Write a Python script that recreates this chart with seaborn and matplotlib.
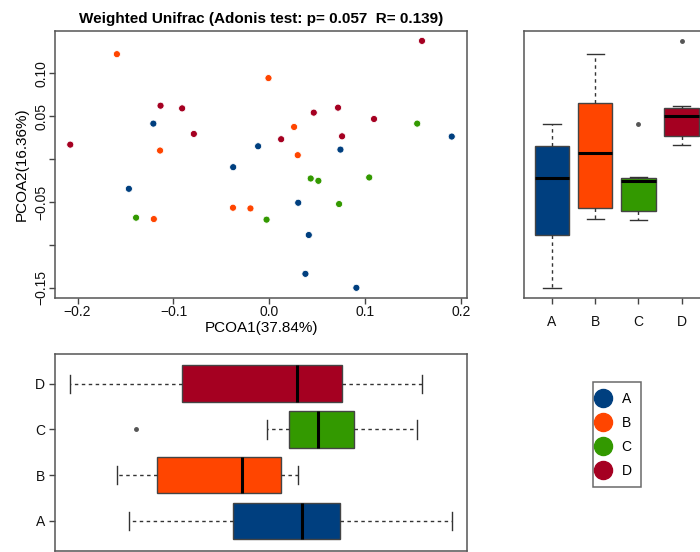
"""
PCoA (weighted UniFrac) scatter with marginal boxplots per group.
"""

import matplotlib

matplotlib.use("Agg")

import matplotlib.cbook as cbook
import matplotlib.pyplot as plt
import numpy as np
import pandas as pd
import seaborn as sns
from matplotlib.lines import Line2D

groups = ["A", "B", "C", "D"]
colors = ["#003F7F", "#FF4500", "#339900", "#A50021"]

a_pc1 = [-0.121, -0.1465, -0.0378, -0.0118, 0.030, 0.074, 0.041, 0.0375, 0.0906, 0.190]
a_pc2 = [0.0415, -0.0345, -0.0093, 0.0151, -0.0508, 0.0112, -0.0884, -0.1337, -0.1500, 0.0264]
b_pc1 = [-0.159, -0.114, -0.1205, -0.038, -0.0198, -0.001, 0.0257, 0.0295]
b_pc2 = [0.1225, 0.0101, -0.0698, -0.0566, -0.0574, 0.0946, 0.0376, 0.0047]
c_pc1 = [-0.139, -0.003, 0.043, 0.051, 0.0726, 0.104, 0.154]
c_pc2 = [-0.0682, -0.0705, -0.0225, -0.0252, -0.0523, -0.0213, 0.0415]
d_pc1 = [-0.2076, -0.1135, -0.091, -0.0788, 0.0122, 0.0462, 0.0715, 0.0757, 0.109, 0.159]
d_pc2 = [0.017, 0.0624, 0.0593, 0.0295, 0.0233, 0.0543, 0.0601, 0.0267, 0.0469, 0.138]

title = "Weighted Unifrac (Adonis test: p= 0.057  R= 0.139)"
xlabel = "PCOA1(37.84%)"
ylabel = "PCOA2(16.36%)"
x_ticks = [-0.2, -0.1, 0.0, 0.1, 0.2]
y_ticks = [-0.15, -0.10, -0.05, 0.0, 0.05, 0.10]
y_ticklabels = ["\u22120.15", "", "\u22120.05", "", "0.05", "0.10"]

df = pd.DataFrame({
    "group": ["A"] * len(a_pc1) + ["B"] * len(b_pc1) + ["C"] * len(c_pc1) + ["D"] * len(d_pc1),
    "PC1": a_pc1 + b_pc1 + c_pc1 + d_pc1,
    "PC2": a_pc2 + b_pc2 + c_pc2 + d_pc2,
})
palette = dict(zip(groups, colors))

# R-style boxplots: Tukey hinges (fivenum) instead of linear percentiles.
_mpl_stats = cbook.boxplot_stats


def r_boxplot_stats(X, whis=1.5, **kwargs):
    out = _mpl_stats(X, whis=whis, **kwargs)
    for st, vals in zip(out, X):
        v = np.sort(np.asarray(vals, dtype=float))
        h = (len(v) + 1) // 2
        q1, q3 = np.median(v[:h]), np.median(v[len(v) - h:])
        iqr = q3 - q1
        lo, hi = q1 - whis * iqr, q3 + whis * iqr
        st.update(q1=q1, q3=q3, iqr=iqr,
                  whislo=v[v >= lo].min(), whishi=v[v <= hi].max(),
                  fliers=v[(v < lo) | (v > hi)])
    return out


matplotlib.cbook.boxplot_stats = r_boxplot_stats

plt.rcParams["font.family"] = ["Liberation Sans", "DejaVu Sans"]
plt.rcParams["axes.edgecolor"] = "#555555"
plt.rcParams["axes.linewidth"] = 1.1
plt.rcParams["xtick.color"] = "#444444"
plt.rcParams["ytick.color"] = "#444444"
plt.rcParams["xtick.labelcolor"] = "#111111"
plt.rcParams["ytick.labelcolor"] = "#111111"


def pad_range(vals, frac=0.04):
    lo, hi = min(vals), max(vals)
    d = (hi - lo) * frac
    return lo - d, hi + d


xlim = pad_range(df["PC1"])
ylim = pad_range(df["PC2"])

W, H = 700, 552
fig = plt.figure(figsize=(W / 100, H / 100), dpi=100)


def px_axes(left, top, right, bottom):
    return fig.add_axes([left / W, 1 - bottom / H, (right - left) / W, (bottom - top) / H])


box_kws = dict(
    palette=palette,
    hue="group",
    legend=False,
    saturation=1,
    width=0.8,
    linecolor="#333333",
    linewidth=1,
    boxprops=dict(edgecolor="#444444", linewidth=1),
    whiskerprops=dict(color="#333333", linestyle=(0, (2.5, 2.5)), linewidth=1),
    capprops=dict(color="#333333", linewidth=1),
    medianprops=dict(color="black", linewidth=2.2),
    flierprops=dict(marker="o", markersize=2.5, markerfacecolor="#555555",
                    markeredgecolor="#555555"),
)

# main scatter
ax = px_axes(55, 31, 467, 297.7)
sns.scatterplot(data=df, x="PC1", y="PC2", hue="group", palette=palette,
                s=26, edgecolor="white", linewidth=0.6, legend=False, ax=ax)
ax.set_xlim(*xlim)
ax.set_ylim(*ylim)
ax.set_xticks(x_ticks)
ax.set_xticklabels([f"{t:.1f}".replace("-", "\u2212") for t in x_ticks])
ax.set_yticks(y_ticks)
ax.set_yticklabels(y_ticklabels, rotation=90, va="center")
ax.tick_params(labelsize=10, length=4, width=1)
ax.tick_params(axis="x", pad=1)
ax.tick_params(axis="y", pad=0.5)
ax.set_xlabel(xlabel, fontsize=11, labelpad=1.5)
ax.set_ylabel(ylabel, fontsize=11, labelpad=4)
ax.set_title(title, fontsize=11, fontweight="bold", pad=6)

# PCOA2 boxplot (right, vertical)
axr = px_axes(523.5, 31, 710, 297.7)
sns.boxplot(data=df, x="group", y="PC2", order=groups, ax=axr, **box_kws)
axr.set_ylim(*ylim)
axr.set_xlim(-0.66, 3.66)
axr.set_yticks([])
axr.set_xlabel("")
axr.set_ylabel("")
axr.tick_params(axis="x", labelsize=10, length=4, width=1, pad=8.5)

# PCOA1 boxplot (bottom, horizontal)
axb = px_axes(55, 353.5, 467, 551)
sns.boxplot(data=df, x="PC1", y="group", order=groups[::-1], orient="h", ax=axb, **box_kws)
axb.set_xlim(*xlim)
axb.set_ylim(3.66, -0.66)
axb.set_xticks([])
axb.set_xlabel("")
axb.set_ylabel("")
axb.tick_params(axis="y", labelsize=10, length=4, width=1, pad=3)

# group legend
handles = [Line2D([0], [0], marker="o", linestyle="none", markersize=13,
                  markerfacecolor=c, markeredgecolor=c) for c in colors]
leg = fig.legend(handles, groups, loc="upper left",
                 bbox_to_anchor=(593 / W, 1 - 382 / H), borderaxespad=0,
                 frameon=True, fancybox=False, fontsize=10, handlelength=0.1,
                 handletextpad=1.25, labelspacing=0.72, borderpad=0.7)
leg.get_frame().set_edgecolor("#444444")
leg.get_frame().set_linewidth(1.1)

fig.savefig("out.png", dpi=100)
plt.close(fig)
